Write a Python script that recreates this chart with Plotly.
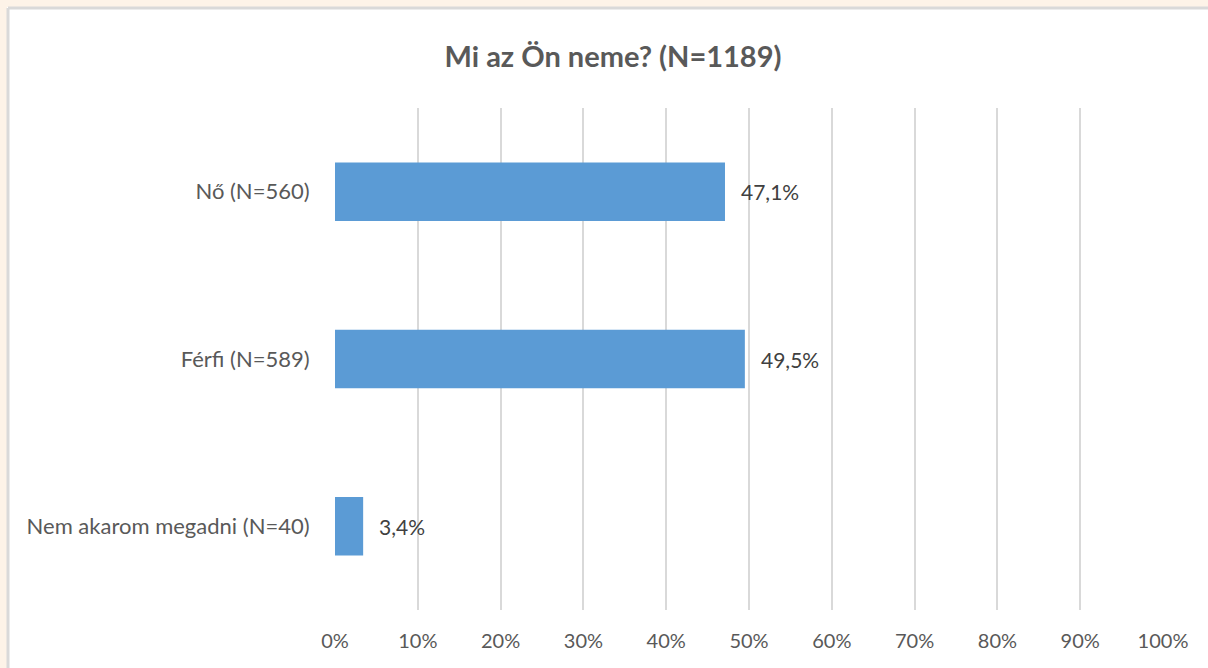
import plotly.graph_objects as go

categories = ["Nő (N=560)", "Férfi (N=589)", "Nem akarom megadni (N=40)"]
values = [47.1, 49.5, 3.4]
value_labels = ["47,1%", "49,5%", "3,4%"]
tick_vals = [0, 10, 20, 30, 40, 50, 60, 70, 80, 90, 100]
tick_text = ["0%", "10%", "20%", "30%", "40%", "50%", "60%", "70%", "80%", "90%", "100%"]
title_text = "Mi az Ön neme? (N=1189)"

W, H = 1208, 668
L, R, T, B = 335, 45, 108, 58
pw, ph = W - L - R, H - T - B

def px(x):
    return (x - L) / pw

def py(y):
    return 1 - (y - T) / ph

fig = go.Figure()
fig.add_trace(go.Bar(
    x=values, y=categories, orientation="h",
    marker=dict(color="#5b9bd5", line=dict(width=0)),
    hoverinfo="skip",
))
for c, v, t in zip(categories, values, value_labels):
    fig.add_annotation(x=v, y=c, text=t, showarrow=False, xanchor="left",
                       xshift=14, font=dict(family="Lato", size=21, color="#404040"))

beige = "#fdf3e8"
fig.add_shape(type="rect", xref="paper", yref="paper", layer="below",
              x0=px(0), x1=px(W), y0=py(7), y1=py(0), fillcolor=beige, line_width=0)
fig.add_shape(type="rect", xref="paper", yref="paper", layer="below",
              x0=px(0), x1=px(7), y0=py(H), y1=py(0), fillcolor=beige, line_width=0)
fig.add_shape(type="line", xref="paper", yref="paper", layer="below",
              x0=px(8), x1=px(W), y0=py(8), y1=py(8), line=dict(color="#d9d9d9", width=3))
fig.add_shape(type="line", xref="paper", yref="paper", layer="below",
              x0=px(8), x1=px(8), y0=py(8), y1=py(H), line=dict(color="#d9d9d9", width=3))

fig.update_layout(
    width=W, height=H,
    margin=dict(l=L, r=R, t=T, b=B, pad=0),
    paper_bgcolor="white", plot_bgcolor="rgba(0,0,0,0)",
    bargap=0.65, showlegend=False,
    title=dict(text=f"<b>{title_text}</b>", x=613 / W, xanchor="center",
               y=1 - 57 / H, yanchor="middle",
               font=dict(family="Lato", size=29, color="#595959")),
    xaxis=dict(range=[0, 100], tickvals=tick_vals, ticktext=tick_text,
               showgrid=True, gridcolor="#d9d9d9", gridwidth=2, zeroline=False,
               showline=False, ticks="outside", ticklen=13, tickcolor="rgba(0,0,0,0)",
               tickfont=dict(family="Lato", size=20, color="#595959"), fixedrange=True),
    yaxis=dict(categoryorder="array", categoryarray=categories[::-1],
               showgrid=False, zeroline=False, showline=False,
               ticks="outside", ticklen=20, tickcolor="rgba(0,0,0,0)",
               tickfont=dict(family="Lato", size=22, color="#595959"), fixedrange=True),
    font=dict(family="Lato"),
)
fig.write_html(
    "out.html", config={"displayModeBar": False},
    post_script=("document.documentElement.style.overflow='hidden';"
                 "document.body.style.margin='0';document.body.style.overflow='hidden';"
                 "document.body.style.background='white';"),
)
